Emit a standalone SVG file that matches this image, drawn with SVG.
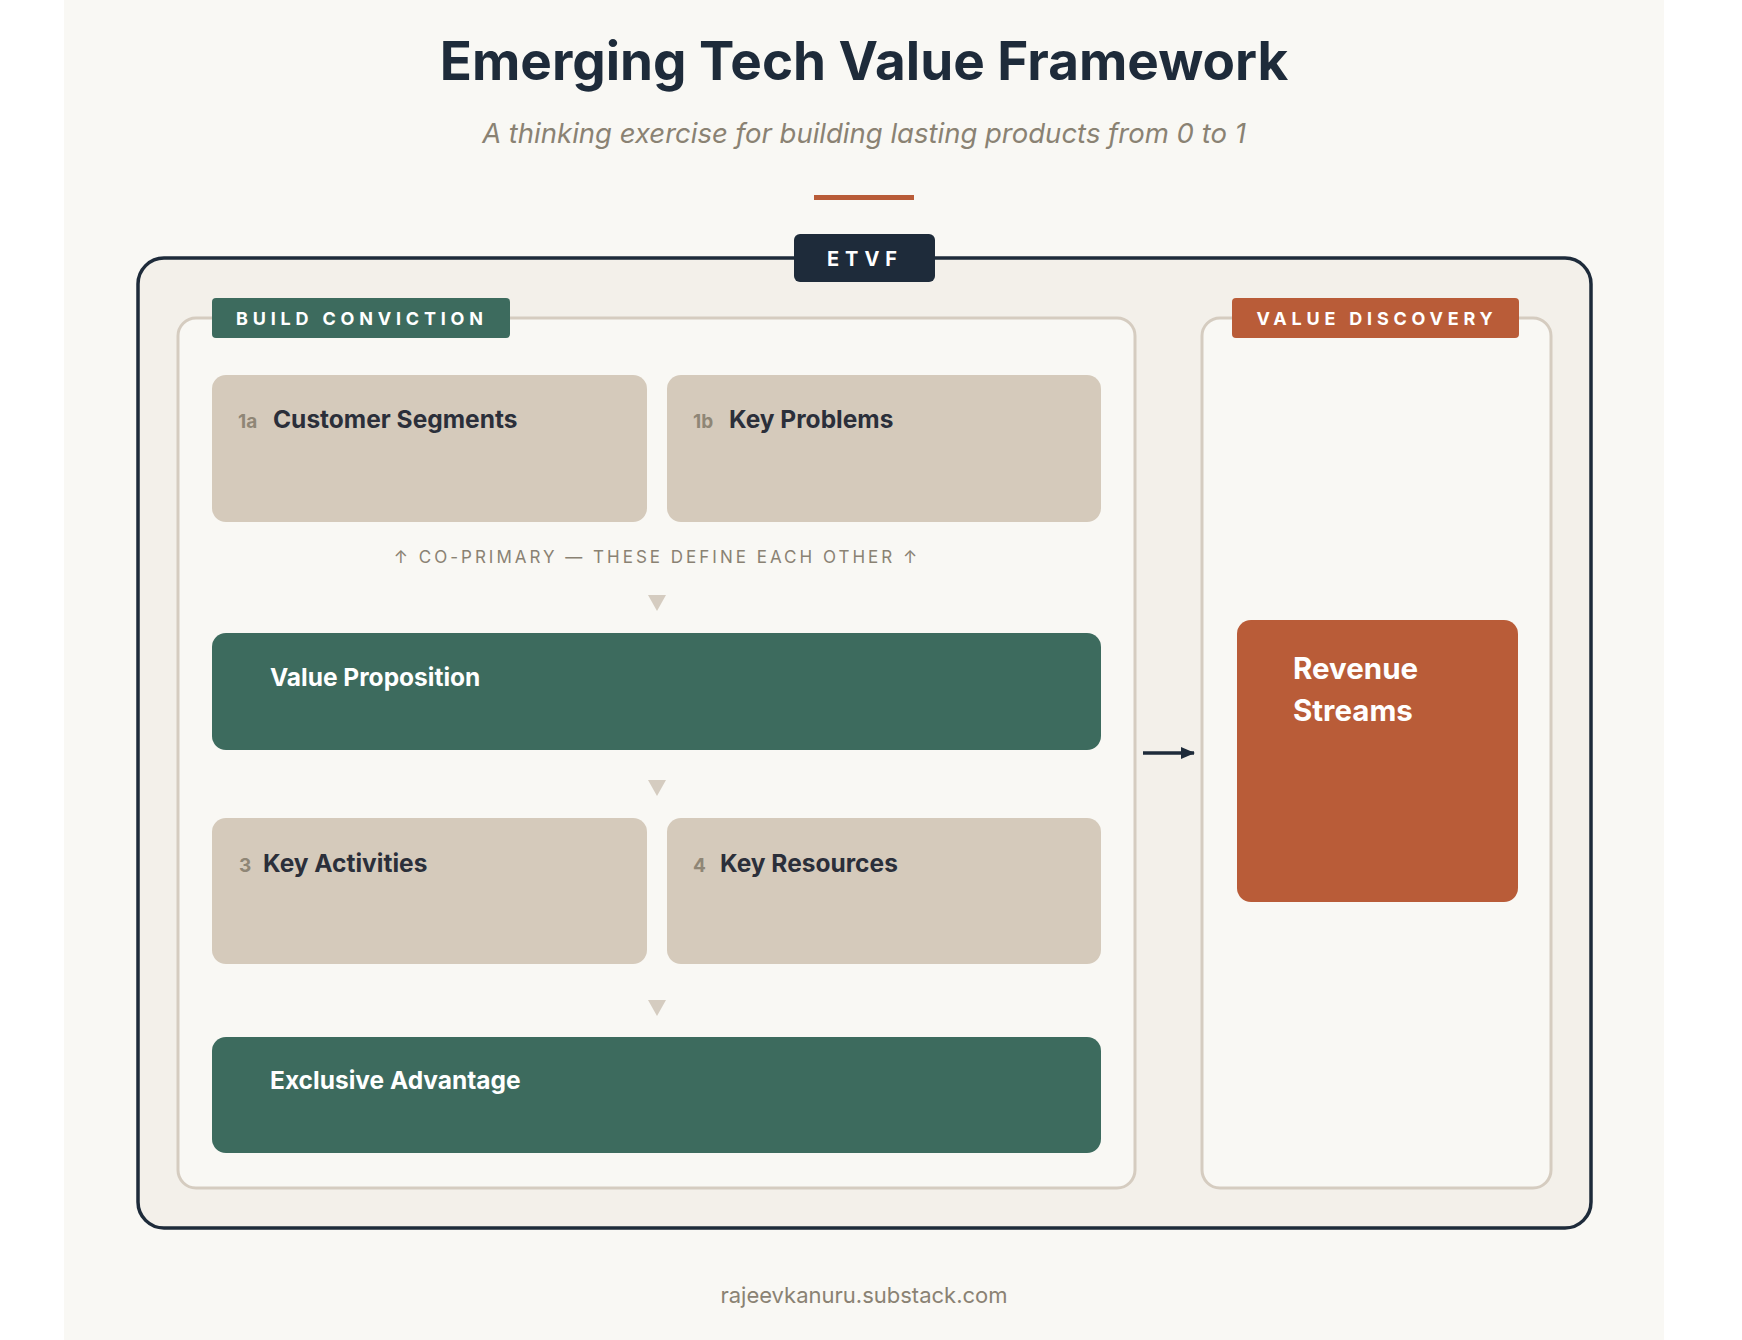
<svg xmlns="http://www.w3.org/2000/svg" width="1742" height="1340" viewBox="0 0 1742 1340">
<style>
text{font-family:Inter,"Liberation Sans",sans-serif}
.card{fill:#d5cabb}
.green{fill:#3d6b5e}
.num{font-size:19px;font-weight:700;fill:#8f8676}
.lbl{font-size:24.5px;font-weight:700;fill:#2b2f3a}
.wlbl{font-size:24.5px;font-weight:700;fill:#fff}
.rev{font-size:29.5px;font-weight:700;fill:#fff}
.tag{font-size:18px;font-weight:700;fill:#fff;letter-spacing:4.8px}
.tri{fill:#d5ccc0}
</style>
<defs><marker id="ah" markerWidth="14" markerHeight="12" refX="13" refY="6" orient="auto" markerUnits="userSpaceOnUse"><path d="M0,0 L14,6 L0,12 Z" fill="#1e2b3a"/></marker></defs>
<rect width="1742" height="1340" fill="#fff"/>
<rect x="64" y="0" width="1600" height="1340" fill="#f9f8f4"/>
<text x="864" y="80" text-anchor="middle" font-size="53" font-weight="700" fill="#1e2b3a">Emerging Tech Value Framework</text>
<text x="864" y="143" text-anchor="middle" font-size="27.5" font-style="italic" fill="#8a8273">A thinking exercise for building lasting products from 0 to 1</text>
<rect x="814" y="195" width="100" height="5" fill="#b95c38"/>
<g id="frame">
<rect x="138" y="258" width="1453" height="970" rx="26" fill="#f3f0ea" stroke="#1e2b3a" stroke-width="3.5"/>
<rect x="794" y="234" width="141" height="48" rx="6" fill="#1e2b3a"/>
<text x="865" y="266" text-anchor="middle" font-size="20" font-weight="700" fill="#fff" letter-spacing="6">ETVF</text>
</g>
<g id="build-conviction">
<rect x="178" y="318" width="957" height="870" rx="18" fill="#f9f8f4" stroke="#d5ccc0" stroke-width="3"/>
<rect x="212" y="298" width="298" height="40" rx="4" class="green"/>
<text x="236" y="325" class="tag">BUILD CONVICTION</text>
</g>
<g id="value-discovery">
<rect x="1202" y="318" width="349" height="870" rx="18" fill="#f9f8f4" stroke="#d5ccc0" stroke-width="3"/>
<rect x="1232" y="298" width="287" height="40" rx="4" fill="#b95c38"/>
<text x="1377" y="325" text-anchor="middle" class="tag">VALUE DISCOVERY</text>
</g>
<g id="customer-segments"><rect x="212" y="375" width="435" height="147" rx="14" class="card"/><text x="238" y="428" class="num">1a</text><text x="273" y="428" class="lbl">Customer Segments</text></g>
<g id="key-problems"><rect x="667" y="375" width="434" height="147" rx="14" class="card"/><text x="693" y="428" class="num">1b</text><text x="729" y="428" class="lbl">Key Problems</text></g>
<text x="657" y="563" text-anchor="middle" font-size="17" fill="#8a8273" letter-spacing="3">↑ CO-PRIMARY — THESE DEFINE EACH OTHER ↑</text>
<g id="value-proposition"><rect x="212" y="633" width="889" height="117" rx="14" class="green"/><text x="270" y="686" class="wlbl">Value Proposition</text></g>
<g id="key-activities"><rect x="212" y="818" width="435" height="146" rx="14" class="card"/><text x="239" y="872" class="num">3</text><text x="263" y="872" class="lbl">Key Activities</text></g>
<g id="key-resources"><rect x="667" y="818" width="434" height="146" rx="14" class="card"/><text x="693" y="872" class="num">4</text><text x="720" y="872" class="lbl">Key Resources</text></g>
<g id="exclusive-advantage"><rect x="212" y="1037" width="889" height="116" rx="14" class="green"/><text x="270" y="1089" class="wlbl">Exclusive Advantage</text></g>
<g id="revenue-streams"><rect x="1237" y="620" width="281" height="282" rx="14" fill="#b95c38"/><text x="1293" y="679" class="rev">Revenue</text><text x="1293" y="721" class="rev">Streams</text></g>
<g id="connectors">
<path class="tri" d="M648,595 L666,595 L657,611 Z"/>
<path class="tri" d="M648,780 L666,780 L657,796 Z"/>
<path class="tri" d="M648,1000 L666,1000 L657,1016 Z"/>
<line x1="1143" y1="753" x2="1194" y2="753" stroke="#1e2b3a" stroke-width="3.5" marker-end="url(#ah)"/>
</g>
<text x="864" y="1303" text-anchor="middle" font-size="22" fill="#8a8273">rajeevkanuru.substack.com</text>
</svg>
